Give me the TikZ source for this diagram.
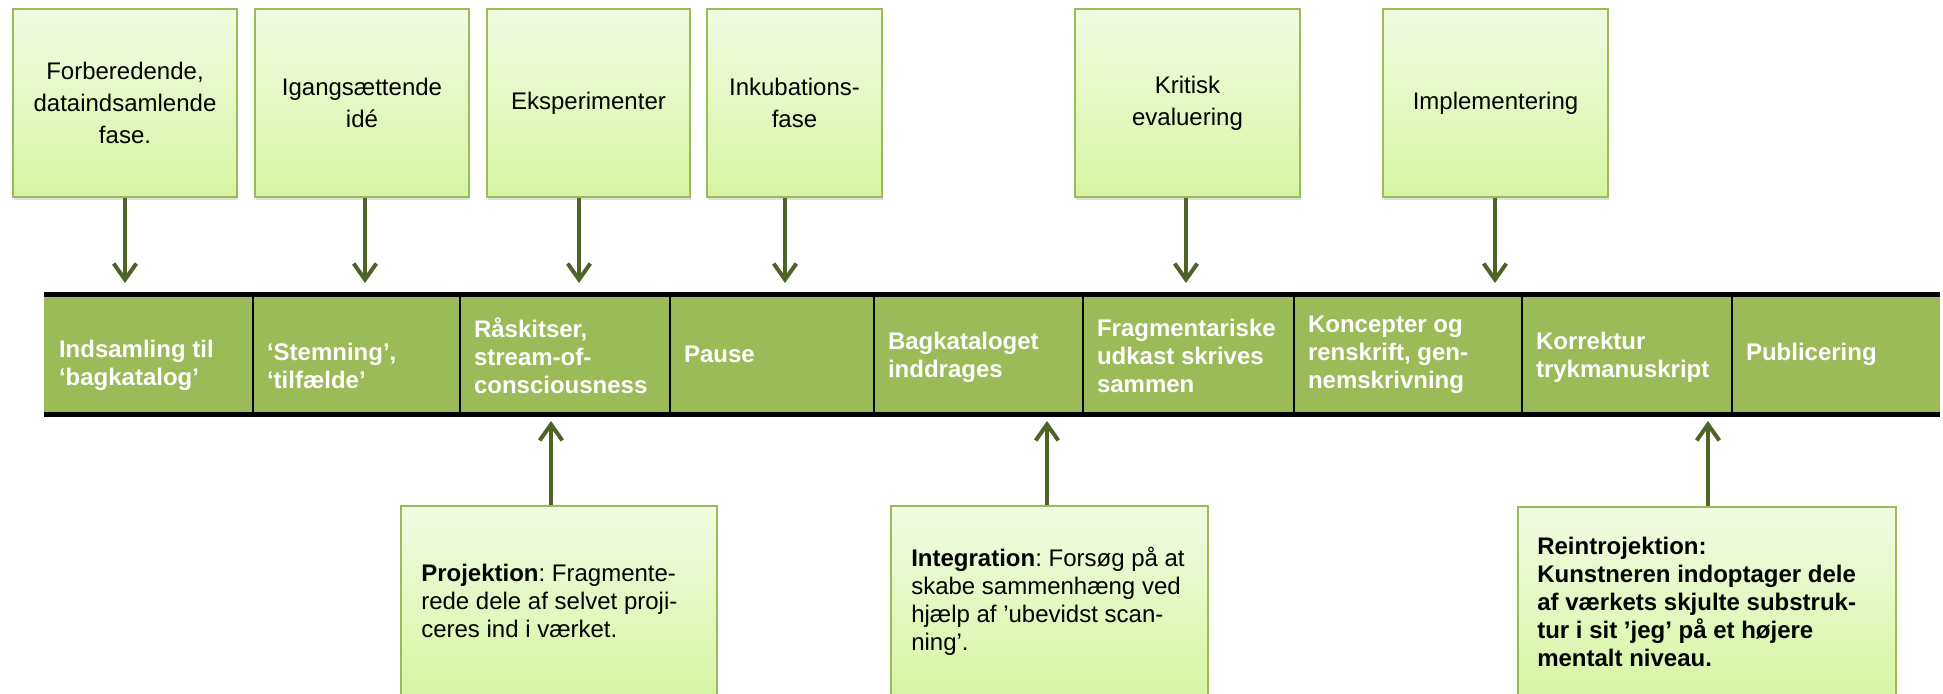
\documentclass[tikz,border=0pt]{standalone}
\usepackage{fontspec}
\setmainfont{Liberation Sans}
\usetikzlibrary{arrows.meta,shadows,calc}
\definecolor{barGreen}{HTML}{9BBB59}
\definecolor{arrGreen}{HTML}{4F6228}
\definecolor{boxTop}{HTML}{F2FBE2}
\definecolor{boxBot}{HTML}{D6F5A3}
\frenchspacing
\begin{document}
\begin{tikzpicture}[x=0.75pt,y=-0.75pt,
  topbox/.style={draw=barGreen, line width=1.5pt, top color=boxTop, bottom color=boxBot,
    drop shadow={opacity=0.25, shadow xshift=1pt, shadow yshift=-2pt},
    inner sep=0pt, align=center, font=\fontsize{18pt}{24pt}\selectfont},
  seg/.style={fill=barGreen, draw=none, inner sep=0pt, minimum height=115*0.75pt},
  segtxt/.style={anchor=west, inner sep=0pt, align=left, text=white,
    font=\fontsize{18pt}{21pt}\selectfont\bfseries},
  divline/.style={draw=black, line width=1.5pt},
  barline/.style={draw=black, line width=3.75pt},
  arr/.style={draw=arrGreen, line width=3pt, -{Straight Barb[length=12pt,width=17pt]}},
  btxt/.style={anchor=west, inner sep=0pt, align=left, font=\fontsize{18pt}{21pt}\selectfont\frenchspacing}
]
\useasboundingbox (0,0) rectangle (1943,693);
\clip (0,0) rectangle (1943,693);

% top boxes
\node[topbox, minimum width=224*0.75pt, minimum height=188*0.75pt] (b1) at (125,103) {Forberedende,\\dataindsamlende\\fase.};
\node[topbox, minimum width=214*0.75pt, minimum height=188*0.75pt] (b2) at (362,103) {Igangsættende\\idé};
\node[topbox, minimum width=203*0.75pt, minimum height=188*0.75pt] (b3) at (588.5,103) {Eksperimenter};
\node[topbox, minimum width=175*0.75pt, minimum height=188*0.75pt] (b4) at (794.5,103) {Inkubations-\\fase};
\node[topbox, minimum width=225*0.75pt, minimum height=188*0.75pt] (b5) at (1187.5,103) {Kritisk\\evaluering};
\node[topbox, minimum width=225*0.75pt, minimum height=188*0.75pt] (b6) at (1495.5,103) {Implementering};

% bar segments
\node[seg, minimum width=209*0.75pt] (s1) at (148.5,354.5) {};
\node[seg, minimum width=207*0.75pt] (s2) at (356.5,354.5) {};
\node[seg, minimum width=210*0.75pt] (s3) at (565,354.5) {};
\node[seg, minimum width=204*0.75pt] (s4) at (772,354.5) {};
\node[seg, minimum width=209*0.75pt] (s5) at (978.5,354.5) {};
\node[seg, minimum width=211*0.75pt] (s6) at (1188.5,354.5) {};
\node[seg, minimum width=228*0.75pt] (s7) at (1408,354.5) {};
\node[seg, minimum width=210*0.75pt] (s8) at (1627,354.5) {};
\node[seg, minimum width=208*0.75pt] (s9) at (1836,354.5) {};

\foreach \s in {s1,s2,s3,s4,s5,s6,s7,s8}
  \draw[divline] (\s.north east) -- (\s.south east);
\draw[barline] ($(s1.north west)+(0,-2.5)$) -- ($(s9.north east)+(0,-2.5)$);
\draw[barline] ($(s1.south west)+(0,2.5)$) -- ($(s9.south east)+(0,2.5)$);

\node[segtxt] (s1t) at ($(s1.west)+(15,11)$) {Indsamling til\\‘bagkatalog’};
\node[segtxt] (s2t) at ($(s2.west)+(14,11)$) {‘Stemning’,\\‘tilfælde’};
\node[segtxt] (s3t) at ($(s3.west)+(14,1)$) {Råskitser,\\stream-of-\\consciousness};
\node[segtxt] (s4t) at ($(s4.west)+(14,0)$) {Pause};
\node[segtxt] (s5t) at ($(s5.west)+(14,3)$) {Bagkataloget\\inddrages};
\node[segtxt] (s6t) at ($(s6.west)+(14,1)$) {Fragmentariske\\udkast skrives\\sammen};
\node[segtxt] (s7t) at ($(s7.west)+(14,0)$) {Koncepter og\\renskrift, gen-\\nemskrivning};
\node[segtxt] (s8t) at ($(s8.west)+(14,3)$) {Korrektur\\trykmanuskript};
\node[segtxt] (s9t) at ($(s9.west)+(14,0)$) {Publicering};

% arrow targets
\coordinate (t1) at (125,283);
\coordinate (t2) at (365,283);
\coordinate (t3) at (579,283);
\coordinate (t4) at (785,283);
\coordinate (t5) at (1186,283);
\coordinate (t6) at (1495,283);
\draw[arr] (b1.south -| t1) -- (t1);
\draw[arr] (b2.south -| t2) -- (t2);
\draw[arr] (b3.south -| t3) -- (t3);
\draw[arr] (b4.south -| t4) -- (t4);
\draw[arr] (b5.south -| t5) -- (t5);
\draw[arr] (b6.south -| t6) -- (t6);

% bottom boxes
\node[topbox, minimum width=316*0.75pt, minimum height=191*0.75pt] (pA) at (559,601.5) {};
\node[topbox, minimum width=317*0.75pt, minimum height=191*0.75pt] (pB) at (1049.5,601.5) {};
\node[topbox, minimum width=378*0.75pt, minimum height=190*0.75pt] (pC) at (1707,602) {};

\node[btxt] (pAt) at ($(pA.west)+(21,-1)$) {\textbf{Projektion}: Fragmente-\\rede dele af selvet proji-\\ceres ind i værket.};
\node[btxt] (pBt) at ($(pB.west)+(21,0)$) {\textbf{Integration}: Forsøg på at\\skabe sammenhæng ved\\hjælp af ’ubevidst scan-\\ning’.};
\node[btxt, font=\fontsize{18pt}{21pt}\selectfont\bfseries\frenchspacing] (pCt) at ($(pC.west)+(20,0)$) {Reintrojektion:\\Kunstneren indoptager dele\\af værkets skjulte substruk-\\tur i sit ’jeg’ på et højere\\mentalt niveau.};

\coordinate (u1) at (551,421);
\coordinate (u2) at (1047,421);
\coordinate (u3) at (1708,421);
\draw[arr] (pA.north -| u1) -- (u1);
\draw[arr] (pB.north -| u2) -- (u2);
\draw[arr] (pC.north -| u3) -- (u3);
\end{tikzpicture}
\end{document}
